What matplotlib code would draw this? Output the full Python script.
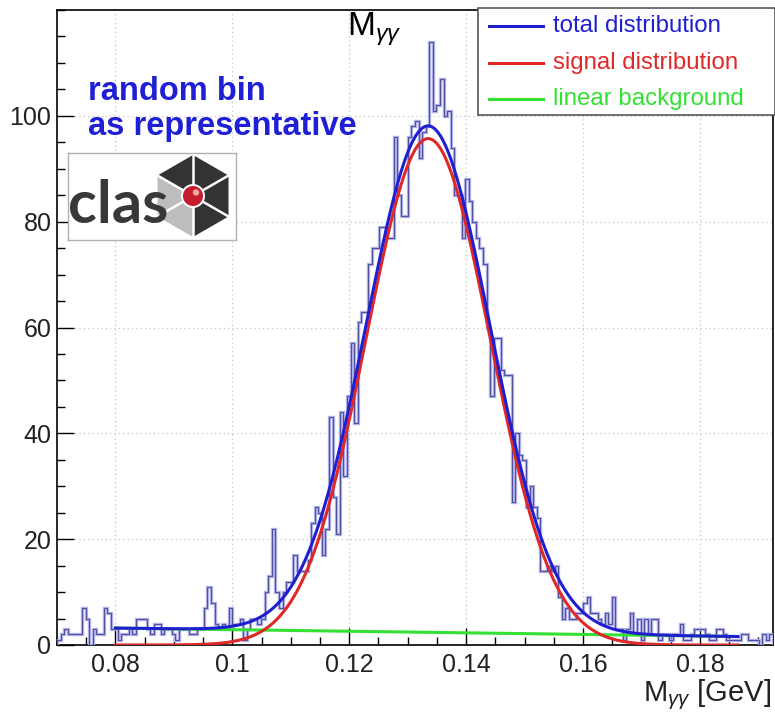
import numpy as np
import matplotlib
matplotlib.use('Agg')
import matplotlib.pyplot as plt
from matplotlib.patches import Polygon, Circle, Rectangle
from matplotlib.lines import Line2D
from matplotlib.ticker import MultipleLocator

plt.rcParams['font.family'] = ['Liberation Sans', 'DejaVu Sans']
plt.rcParams['mathtext.fontset'] = 'custom'
plt.rcParams['mathtext.rm'] = 'Liberation Sans'
plt.rcParams['mathtext.it'] = 'Liberation Sans:italic'

# ---------------- data ----------------
hist_min, hist_max = 0.07, 0.1925
counts = [
    1, 2, 3, 2, 2, 2, 2, 7, 5, 0,
    3, 2, 2, 7, 6, 3, 3, 1, 2, 2,
    3, 2, 5, 5, 5, 3, 2, 4, 4, 2,
    3, 3, 2, 1, 3, 3, 3, 2, 2, 3,
    3, 7, 11, 8, 4, 3, 4, 3, 7, 4,
    4, 5, 1, 3, 5, 5, 4, 5, 10, 13,
    22, 10, 7, 10, 12, 12, 17, 14, 14, 14,
    16, 23, 26, 25, 17, 22, 43, 28, 21, 44,
    32, 47, 57, 42, 61, 63, 63, 72, 75, 75,
    79, 79, 77, 77, 96, 85, 81, 81, 96, 98,
    99, 92, 97, 98, 114, 101, 102, 107, 100, 101,
    94, 85, 85, 77, 88, 84, 80, 77, 75, 72,
    60, 47, 58, 58, 52, 51, 51, 27, 40, 36,
    35, 26, 30, 26, 24, 14, 14, 15, 14, 15,
    9, 5, 7, 5, 5, 6, 6, 8, 9, 6,
    6, 5, 4, 6, 4, 9, 3, 3, 1, 3,
    6, 2, 5, 1, 5, 2, 5, 5, 1, 2,
    2, 1, 2, 2, 4, 1, 1, 2, 3, 3,
    3, 2, 1, 1, 3, 3, 2, 1, 1, 1,
    1, 2, 2, 1, 1, 1, 0, 2, 1, 2,
]

# fit results
fit_lo, fit_hi = 0.08, 0.1865
sig_amp, sig_mean, sig_sigma = 95.7, 0.1335, 0.0106
bkg_at_lo, bkg_slope = 3.2, -15.0

legend_labels = ['total distribution', 'signal distribution', 'linear background']
legend_colors = ['#1f1fd0', '#e02828', '#33e033']
x_ticks = [0.08, 0.10, 0.12, 0.14, 0.16, 0.18]
x_ticklabels = ['0.08', '0.1', '0.12', '0.14', '0.16', '0.18']
y_ticks = [0, 20, 40, 60, 80, 100]

# ---------------- figure ----------------
W, H = 775, 716
fig = plt.figure(figsize=(W / 100, H / 100), dpi=100)
ax = fig.add_axes([57 / W, 71 / H, 716 / W, 635 / H])

edges = np.linspace(hist_min, hist_max, len(counts) + 1)
ax.stairs(counts, edges, color='#b4b4ec', lw=2.4, zorder=3)
ax.stairs(counts, edges, color='#50509e', lw=0.8, zorder=4)

xf = np.linspace(fit_lo, fit_hi, 800)
bkg = bkg_at_lo + bkg_slope * (xf - fit_lo)
sig = sig_amp * np.exp(-0.5 * ((xf - sig_mean) / sig_sigma) ** 2)
ax.plot(xf, bkg, color=legend_colors[2], lw=2.2, zorder=5)
ax.plot(xf, sig, color=legend_colors[1], lw=2.2, zorder=6)
ax.plot(xf, sig + bkg, color=legend_colors[0], lw=2.2, zorder=7)

ax.set_xlim(hist_min, hist_max)
ax.set_ylim(0, 120)
ax.set_xticks(x_ticks)
ax.set_xticklabels(x_ticklabels)
ax.set_yticks(y_ticks)
ax.xaxis.set_minor_locator(MultipleLocator(0.005))
ax.yaxis.set_minor_locator(MultipleLocator(5))
ax.tick_params(which='both', direction='in', top=False, right=False, width=1.0)
ax.tick_params(which='major', length=12, labelsize=18, color='black')
ax.tick_params(which='minor', length=6)
ax.tick_params(axis='y', pad=4)
ax.tick_params(axis='x', pad=6)
for lab in ax.get_xticklabels() + ax.get_yticklabels():
    lab.set_color('#222222')
ax.grid(True, which='major', color='#c4c4c4', linestyle=(0, (1, 2.5)), lw=0.9)
ax.set_axisbelow(True)
for s in ax.spines.values():
    s.set_linewidth(1.2)

# title and axis label
fig.text(374 / W, 1 - 29 / H, r'M$_{\gamma\gamma}$', fontsize=24, ha='center', va='center', color='black')
fig.text(771 / W, 1 - 695 / H, r'M$_{\gamma\gamma}$ [GeV]', fontsize=21, ha='right', va='center', color='#222222')

# legend (drawn by hand to match the ROOT box)
fig.add_artist(Rectangle((478 / W, 1 - 115 / H), 297 / W, 107 / H, transform=fig.transFigure,
                         facecolor='white', edgecolor='#555555', lw=1.2, zorder=20))
for i, (lab, col) in enumerate(zip(legend_labels, legend_colors)):
    yy = 1 - (26 + 36.5 * i) / H
    fig.add_artist(Line2D([489 / W, 543 / W], [yy, yy], transform=fig.transFigure,
                          color=col, lw=2.2, zorder=21))
    fig.text(553 / W, yy, lab, fontsize=17.3, color=col, ha='left', va='center', zorder=22)

# annotation text
fig.text(88 / W, 1 - 92 / H, 'random bin', fontsize=23.5, fontweight='bold', color='#1f1fd6',
         ha='left', va='center')
fig.text(88 / W, 1 - 127 / H, 'as representative', fontsize=23.5, fontweight='bold', color='#1f1fd6',
         ha='left', va='center')

# CLAS logo
lax = fig.add_axes([68 / W, (H - 240) / H, 168 / W, 87 / H])
lax.set_xlim(0, 168)
lax.set_ylim(0, 87)
lax.set_xticks([])
lax.set_yticks([])
for s in lax.spines.values():
    s.set_edgecolor('#b0b0b0')
    s.set_linewidth(1.0)
cx, cy, R = 125, 44, 41
angs = np.deg2rad([90, 30, -30, -90, -150, 150])
verts = [(cx + R * np.cos(a), cy + R * np.sin(a)) for a in angs]
wedge_cols = ['#333333', '#333333', '#333333', '#bdbdbd', '#bdbdbd', '#333333']
for i in range(6):
    p1 = verts[i]
    p2 = verts[(i + 1) % 6]
    lax.add_patch(Polygon([(cx, cy), p1, p2], closed=True, facecolor=wedge_cols[i],
                          edgecolor='none', zorder=2))
for v in verts:
    lax.plot([cx, v[0]], [cy, v[1]], color='white', lw=1.8, zorder=3)
lax.text(0, 17, 'clas', fontsize=43, fontweight='bold', color='#383838', ha='left', va='baseline',
         family='Lato', zorder=4)
lax.add_patch(Circle((cx, cy), 11, facecolor='#c41e2e', edgecolor='white', lw=1.4, zorder=5))
lax.add_patch(Circle((cx + 3, cy + 3.5), 3.2, facecolor='#f2a6a6', edgecolor='none', zorder=6))

fig.savefig('out.png', dpi=100)
